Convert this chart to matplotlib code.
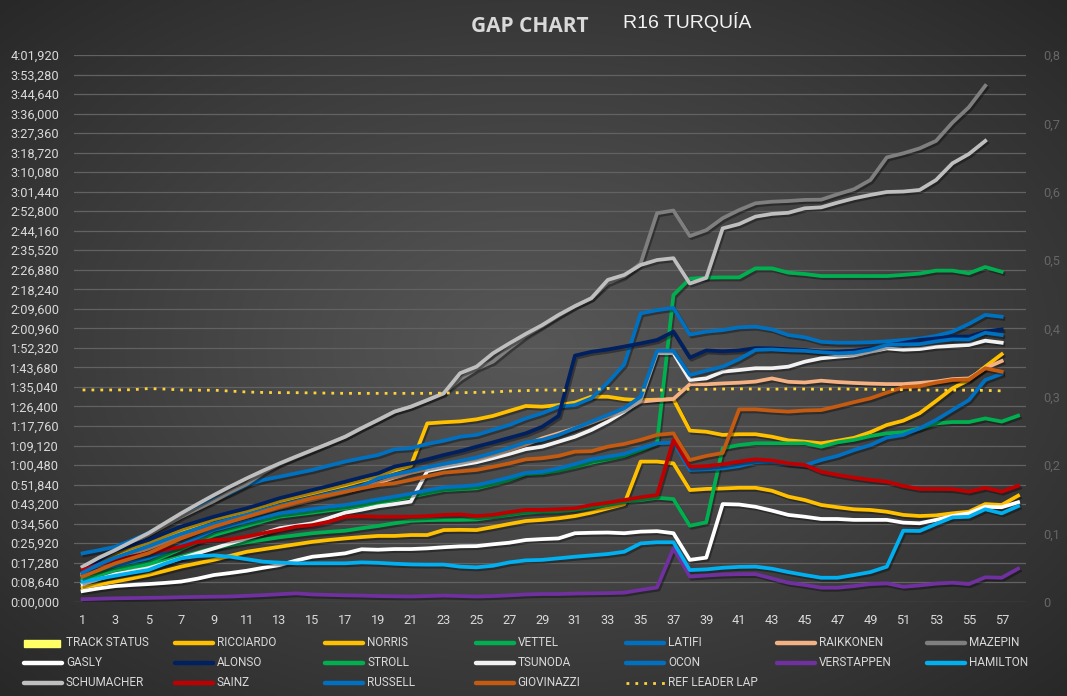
# Gap chart R16 Turquía: gap al líder (en segundos) por vuelta
import numpy as np
import matplotlib
matplotlib.use("Agg")
import matplotlib.pyplot as plt
import matplotlib.patheffects as pe
from matplotlib.lines import Line2D
from matplotlib.patches import Rectangle
from matplotlib.ticker import FuncFormatter, MultipleLocator

### datos (segundos de diferencia con el líder, vuelta 1 en adelante)

ricciardo = [12.3, 17.0, 21.0, 23.5, 26.0, 28.8, 31.5, 34.0, 36.5, 38.3,
             40.0, 42.3, 44.5, 46.3, 48.0, 49.8, 51.5, 53.5, 55.3, 58.0,
             60.2, 78.9, 79.4, 79.8, 80.7, 82.2, 84.4, 86.6, 86.3, 87.0,
             88.1, 90.7, 90.7, 89.6, 89.2, 89.4, 89.6, 75.7, 75.2, 73.8,
             74.1, 74.1, 73.0, 71.4, 70.8, 70.1, 71.2, 72.5, 75.0, 78.2,
             80.1, 83.4, 88.8, 94.4, 98.1, 104.0, 109.5]
norris = [6.4, 7.6, 8.9, 10.3, 11.8, 13.6, 15.5, 17.0, 18.5, 20.3,
          22.1, 23.2, 24.3, 25.4, 26.5, 27.3, 28.0, 28.6, 29.1, 29.1,
          29.5, 29.5, 31.7, 31.8, 31.7, 33.0, 34.4, 35.7, 36.2, 36.9,
          37.9, 39.4, 41.3, 43.2, 62.0, 62.0, 61.2, 49.4, 49.9, 50.1,
          50.4, 50.4, 49.1, 46.5, 45.0, 42.8, 41.8, 40.9, 40.6, 39.8,
          38.4, 37.9, 38.2, 39.1, 39.8, 43.2, 42.8, 46.9]
vettel = [10.8, 12.5, 14.3, 15.7, 17.0, 20.2, 23.3, 26.4, 29.5, 31.5,
          33.5, 35.6, 37.6, 38.5, 39.4, 40.4, 41.3, 42.5, 43.7, 45.0,
          46.5, 48.0, 49.4, 49.8, 50.2, 52.0, 53.9, 56.5, 56.8, 58.0,
          59.7, 61.5, 63.0, 64.5, 67.1, 70.1, 135.7, 142.9, 143.4, 143.5,
          143.5, 147.5, 147.5, 145.6, 145.0, 144.1, 144.1, 144.1, 144.1, 144.1,
          144.6, 145.2, 146.5, 146.5, 145.3, 148.1, 146.0]
latifi = [21.4, 22.8, 24.3, 27.2, 30.3, 34.4, 38.4, 41.7, 45.0, 48.0,
          51.6, 53.9, 55.3, 56.8, 58.3, 60.2, 62.0, 63.5, 64.9, 67.4,
          67.9, 69.8, 71.2, 73.0, 73.8, 76.0, 78.2, 81.1, 83.4, 86.3,
          87.0, 90.0, 97.0, 105.0, 127.6, 129.0, 130.0, 118.2, 119.5, 120.2,
          121.4, 121.7, 120.5, 118.0, 117.0, 115.0, 114.6, 114.6, 114.8, 115.2,
          115.8, 116.4, 117.6, 119.5, 122.9, 126.9, 126.1]
raikkonen = [11.5, 15.5, 18.5, 21.0, 23.5, 26.3, 29.0, 31.3, 33.5, 35.5,
             37.5, 39.5, 41.5, 43.3, 45.0, 46.8, 48.5, 50.5, 52.5, 55.0,
             57.0, 58.6, 60.5, 61.5, 62.5, 64.7, 67.1, 69.5, 72.3, 74.5,
             76.7, 79.2, 81.9, 84.8, 88.5, 89.2, 89.7, 96.2, 96.2, 96.6,
             96.9, 97.4, 98.8, 97.3, 97.0, 97.8, 97.2, 96.8, 96.5, 96.3,
             96.3, 96.8, 97.4, 98.5, 98.8, 103.3, 106.5]
mazepin = [15.3, 19.0, 22.5, 26.0, 29.5, 33.5, 37.5, 41.0, 44.5, 48.5,
           52.0, 57.0, 61.0, 64.0, 67.0, 70.0, 73.0, 76.8, 80.4, 84.1,
           86.3, 89.2, 92.2, 98.4, 103.0, 106.2, 112.1, 117.6, 122.0, 126.5,
           130.8, 134.3, 141.0, 144.0, 149.7, 171.9, 173.1, 161.8, 164.4, 169.7,
           173.3, 176.3, 177.0, 177.3, 177.8, 177.9, 180.3, 182.5, 186.6, 196.6,
           198.4, 200.6, 203.9, 212.0, 218.8, 228.3]
gasly = [4.7, 5.9, 6.9, 7.4, 7.8, 8.3, 8.9, 10.2, 11.8, 12.7,
         13.7, 15.0, 16.2, 18.2, 19.9, 20.6, 21.4, 23.2, 23.0, 23.3,
         23.3, 23.6, 24.1, 24.5, 24.6, 25.4, 26.1, 27.3, 27.7, 28.0,
         30.3, 30.5, 30.6, 30.3, 31.0, 31.2, 30.3, 18.5, 19.5, 43.2,
         43.0, 42.0, 40.3, 38.4, 37.6, 36.6, 36.6, 36.2, 36.2, 36.2,
         35.0, 34.7, 36.2, 37.9, 39.1, 42.0, 41.8, 44.0]
alonso = [13.5, 18.5, 22.6, 25.0, 27.3, 30.3, 33.2, 35.4, 37.6, 39.5,
          41.3, 43.5, 45.8, 47.6, 49.4, 51.2, 53.1, 55.0, 56.8, 59.8,
          61.2, 63.0, 64.9, 66.6, 68.6, 70.5, 72.5, 74.5, 77.4, 82.2,
          108.9, 110.6, 111.6, 112.9, 114.3, 115.8, 119.5, 108.0, 111.2, 110.8,
          111.2, 112.2, 112.1, 111.7, 111.4, 110.6, 110.6, 111.1, 112.1, 113.1,
          114.5, 115.8, 116.5, 117.3, 117.3, 119.5, 120.5]
stroll = [9.6, 11.8, 14.0, 15.1, 16.2, 18.0, 19.9, 21.8, 23.6, 25.0,
          26.3, 27.4, 28.5, 29.4, 30.3, 30.9, 31.4, 32.5, 33.5, 34.7,
          35.8, 36.1, 36.2, 36.2, 36.4, 37.4, 38.4, 39.4, 39.8, 40.0,
          40.6, 41.8, 42.8, 44.3, 45.0, 46.0, 45.4, 33.6, 35.1, 67.9,
          69.3, 70.1, 70.1, 70.1, 70.1, 68.6, 70.5, 71.6, 73.3, 74.5,
          75.0, 76.7, 78.9, 79.5, 79.5, 81.1, 79.7, 82.3]
tsunoda = [7.7, 10.0, 12.2, 13.5, 14.8, 17.0, 19.2, 21.4, 23.6, 25.8,
           28.0, 30.2, 32.5, 33.6, 34.7, 37.0, 39.4, 40.7, 42.2, 43.2,
           44.3, 57.8, 59.3, 60.5, 61.7, 63.5, 65.4, 67.5, 68.6, 70.8,
           73.0, 76.0, 79.7, 84.1, 89.2, 110.0, 110.0, 98.1, 98.8, 101.8,
           102.5, 103.3, 103.3, 104.0, 106.2, 107.7, 108.4, 109.0, 110.6, 112.1,
           111.5, 111.8, 112.8, 113.2, 113.6, 115.5, 114.6]
ocon = [12.6, 14.3, 16.0, 17.6, 19.2, 22.0, 25.0, 28.3, 31.7, 33.6,
        35.5, 37.3, 39.1, 40.0, 41.0, 42.0, 42.8, 44.0, 45.3, 46.5,
        47.8, 49.3, 50.6, 51.0, 51.6, 53.2, 55.0, 57.0, 57.5, 59.0,
        60.9, 63.0, 64.2, 65.4, 67.9, 70.1, 70.4, 58.3, 58.6, 59.0,
        60.0, 61.8, 61.8, 61.0, 60.3, 62.7, 64.5, 67.1, 69.3, 72.6,
        73.8, 76.7, 80.4, 84.8, 89.2, 98.1, 100.8]
verstappen = [1.1, 1.3, 1.5, 1.6, 1.7, 1.8, 2.0, 2.1, 2.2, 2.3,
              2.6, 2.9, 3.3, 3.7, 3.2, 3.0, 2.8, 2.7, 2.5, 2.4,
              2.3, 2.5, 2.7, 2.5, 2.3, 2.5, 2.8, 3.2, 3.4, 3.4,
              3.6, 3.7, 3.8, 4.0, 5.2, 6.3, 23.6, 11.1, 11.6, 12.0,
              12.2, 12.2, 10.3, 8.4, 7.4, 6.2, 6.2, 6.9, 7.8, 8.1,
              6.6, 7.2, 8.0, 8.4, 7.8, 10.8, 10.6, 14.6]
hamilton = [8.9, 10.2, 11.5, 12.8, 14.0, 16.8, 19.2, 20.2, 20.5, 19.9,
            18.8, 17.7, 17.3, 17.0, 17.0, 17.0, 17.0, 17.4, 17.2, 16.8,
            16.5, 16.4, 16.4, 15.5, 15.2, 15.9, 17.4, 18.3, 18.5, 19.2,
            19.9, 20.5, 21.1, 22.1, 25.8, 26.3, 26.3, 14.0, 14.3, 15.0,
            15.4, 15.5, 14.6, 13.1, 11.8, 10.6, 10.6, 11.8, 13.1, 15.5,
            31.4, 31.3, 34.4, 37.3, 37.6, 40.9, 39.1, 42.3]
schumacher = [15.5, 19.5, 22.9, 26.6, 30.3, 34.7, 39.1, 43.2, 47.2, 51.0,
              54.6, 58.0, 61.2, 64.2, 67.1, 70.0, 73.0, 76.8, 80.4, 84.1,
              86.3, 89.2, 92.2, 101.1, 104.0, 109.9, 114.3, 118.5, 122.4, 126.9,
              130.8, 134.3, 142.4, 144.6, 149.0, 151.2, 152.0, 140.8, 143.3, 165.2,
              167.1, 170.4, 171.6, 172.1, 174.1, 174.5, 176.6, 178.5, 180.0, 181.3,
              181.5, 182.2, 186.6, 194.0, 198.1, 203.9]
sainz = [14.0, 16.5, 18.5, 20.0, 21.4, 23.0, 24.3, 26.5, 27.3, 27.6,
         28.8, 30.3, 31.7, 33.2, 33.9, 35.4, 37.6, 37.8, 37.6, 37.6,
         37.6, 37.9, 38.4, 38.6, 37.9, 38.4, 39.6, 40.6, 40.6, 40.9,
         41.3, 42.8, 43.8, 45.0, 46.2, 47.2, 71.6, 59.7, 60.0, 60.8,
         62.0, 63.0, 62.5, 61.2, 60.5, 57.5, 56.1, 54.9, 53.9, 53.1,
         51.2, 49.9, 49.9, 49.8, 48.7, 50.4, 48.7, 51.3]
russell = [12.8, 16.5, 19.5, 22.0, 24.5, 27.3, 30.0, 32.3, 34.5, 36.5,
           38.5, 40.5, 42.5, 44.3, 46.0, 47.8, 49.5, 51.2, 54.5, 56.3,
           57.8, 59.5, 61.0, 62.3, 63.8, 65.8, 68.0, 70.5, 71.6, 73.8,
           76.7, 79.7, 82.6, 85.6, 90.7, 111.0, 111.0, 100.3, 102.2, 104.0,
           107.3, 111.4, 111.6, 111.2, 111.0, 110.4, 109.9, 110.2, 111.5, 113.6,
           113.8, 114.0, 115.2, 116.1, 116.0, 119.0, 118.0]
giovinazzi = [11.1, 14.0, 17.0, 19.2, 21.4, 24.7, 28.0, 30.6, 33.2, 35.4,
              37.6, 39.8, 42.0, 43.9, 45.8, 47.2, 48.7, 50.2, 51.6, 52.4,
              53.9, 55.5, 57.1, 57.7, 58.3, 59.7, 61.2, 63.0, 63.5, 64.5,
              66.4, 66.6, 68.6, 69.8, 71.6, 73.8, 74.5, 62.7, 64.5, 65.8,
              85.1, 85.1, 84.5, 84.1, 84.6, 84.8, 86.5, 88.3, 90.0, 92.5,
              94.9, 95.4, 96.9, 98.1, 98.3, 103.3, 101.8]
ref_lider = [93.7, 93.7, 93.7, 93.8, 94.3, 94.1, 93.7, 93.6, 93.6, 93.2,
             92.8, 92.6, 92.5, 92.5, 92.4, 92.3, 92.2, 92.2, 92.2, 92.2,
             92.2, 92.2, 92.3, 92.5, 92.6, 92.8, 93.2, 93.4, 93.7, 93.6,
             93.4, 93.8, 94.4, 94.2, 93.6, 93.6, 93.8, 94.0, 94.0, 94.1,
             94.2, 94.1, 94.0, 94.2, 94.1, 94.0, 94.2, 94.0, 94.0, 93.9,
             93.8, 93.7, 93.6, 93.6, 93.6, 93.5, 93.3]

## orden del legend (igual que en la hoja) y colores
pilotos = ["RICCIARDO", "NORRIS", "VETTEL", "LATIFI", "RAIKKONEN", "MAZEPIN",
           "GASLY", "ALONSO", "STROLL", "TSUNODA", "OCON", "VERSTAPPEN", "HAMILTON",
           "SCHUMACHER", "SAINZ", "RUSSELL", "GIOVINAZZI"]
datos = [ricciardo, norris, vettel, latifi, raikkonen, mazepin,
         gasly, alonso, stroll, tsunoda, ocon, verstappen, hamilton,
         schumacher, sainz, russell, giovinazzi]
colores = ["#ffc000", "#ffc000", "#00b050", "#0070c0", "#f4b183", "#7f7f7f",
           "#ffffff", "#002060", "#00b050", "#f2f2f2", "#0070c0", "#7030a0", "#00b0f0",
           "#bfbfbf", "#c00000", "#0070c0", "#c55a11"]

W, H = 1067, 696
fig = plt.figure(figsize=(W / 100, H / 100), dpi=100)

## fondo con degradado radial
yy, xx = np.mgrid[0:1:300j, 0:1:460j]
r = np.sqrt(((xx - 0.5) / 0.5) ** 2 + ((yy - 0.5) / 0.5) ** 2) / np.sqrt(2)
r = np.clip(r, 0, 1) ** 1.1
centro, borde = 0x57 / 255, 0x28 / 255
fondo = centro + (borde - centro) * r
ax_bg = fig.add_axes([0, 0, 1, 1], zorder=-5)
ax_bg.imshow(np.dstack([fondo] * 3), extent=[0, 1, 0, 1], aspect="auto", interpolation="bilinear")
ax_bg.axis("off")

## ejes principales
ax = fig.add_axes([74.4 / W, 1 - 601.7 / H, (1026.3 - 74.4) / W, (601.7 - 55) / H])
ax.set_facecolor("none")
paso = 8.64
ax.set_ylim(0, 28 * paso)
ax.set_xlim(0.5, 58.5)
ax.yaxis.set_major_locator(MultipleLocator(paso))
ax.set_xticks(np.arange(1, 58, 2))


def formato_tiempo(v, pos):
    m = int(v // 60)
    s = v - 60 * m
    return f"{m}:{s:06.3f}".replace(".", ",")


ax.yaxis.set_major_formatter(FuncFormatter(formato_tiempo))
ax.grid(axis="y", color="#626262", lw=0.9)
ax.set_axisbelow(True)
for sp in ax.spines.values():
    sp.set_visible(False)
ax.tick_params(length=0, colors="#d9d9d9", labelsize=9.2)
ax.tick_params(axis="y", pad=11)
ax.tick_params(axis="x", pad=9)
for t in ax.get_xticklabels() + ax.get_yticklabels():
    t.set_fontfamily("Roboto")

sombra = [pe.SimpleLineShadow(offset=(1.2, -1.5), shadow_color="black", alpha=0.35), pe.Normal()]
for nombre, v, c in zip(pilotos, datos, colores):
    vueltas = np.arange(1, len(v) + 1)
    ax.plot(vueltas, v, color=c, lw=2.7, solid_joinstyle="round", path_effects=sombra)

ax.plot(np.arange(1, len(ref_lider) + 1), ref_lider, color="#ffd43b",
        lw=2.0, linestyle=(0, (1, 2.2)))

## eje secundario (derecha)
ax2 = ax.twinx()
ax2.set_ylim(0, 0.8)
ax2.yaxis.set_major_locator(MultipleLocator(0.1))
ax2.yaxis.set_major_formatter(FuncFormatter(lambda v, p: ("%g" % round(v, 1)).replace(".", ",")))
for sp in ax2.spines.values():
    sp.set_visible(False)
ax2.tick_params(length=0, colors="#666666", labelsize=9.2, pad=12)
for t in ax2.get_yticklabels():
    t.set_fontfamily("Roboto")

## titulo
fig.text(529.5 / W, 1 - 26.7 / H, "GAP CHART", ha="center", va="center",
         fontsize=15, fontweight="bold", color="#d9d9d9", family="Open Sans")
fig.text(687 / W, 1 - 22.5 / H, "R16 TURQUÍA", ha="center", va="center",
         fontsize=14, color="#f2f2f2", family="Liberation Sans")

## legend manual (3 filas x 7 columnas)
entradas = ["TRACK STATUS"] + pilotos + ["REF LEADER LAP"]
colores_ley = ["#ffff66"] + colores + ["#ffd43b"]
filas_y = [643, 663, 683]
for i, (nombre, c) in enumerate(zip(entradas, colores_ley)):
    fila, col = i // 7, i % 7
    x0 = 24 + col * 150.5
    y0 = filas_y[fila]
    if nombre == "TRACK STATUS":
        fig.add_artist(Rectangle((x0 / W, 1 - (y0 + 3.5) / H), 36 / W, 7 / H,
                                 transform=fig.transFigure, color=c))
    elif nombre == "REF LEADER LAP":
        fig.add_artist(Line2D([x0 / W, (x0 + 40) / W], [1 - y0 / H] * 2, transform=fig.transFigure,
                              color=c, lw=2.0, linestyle=(0, (1, 2.2))))
    else:
        fig.add_artist(Line2D([x0 / W, (x0 + 38) / W], [1 - y0 / H] * 2, transform=fig.transFigure,
                              color=c, lw=3.2, solid_capstyle="round"))
    fig.text((x0 + 42) / W, 1 - y0 / H, nombre, ha="left", va="center",
             fontsize=8.5, color="#d9d9d9", family="Roboto")

plt.savefig("out.png", dpi=100)
plt.close()
